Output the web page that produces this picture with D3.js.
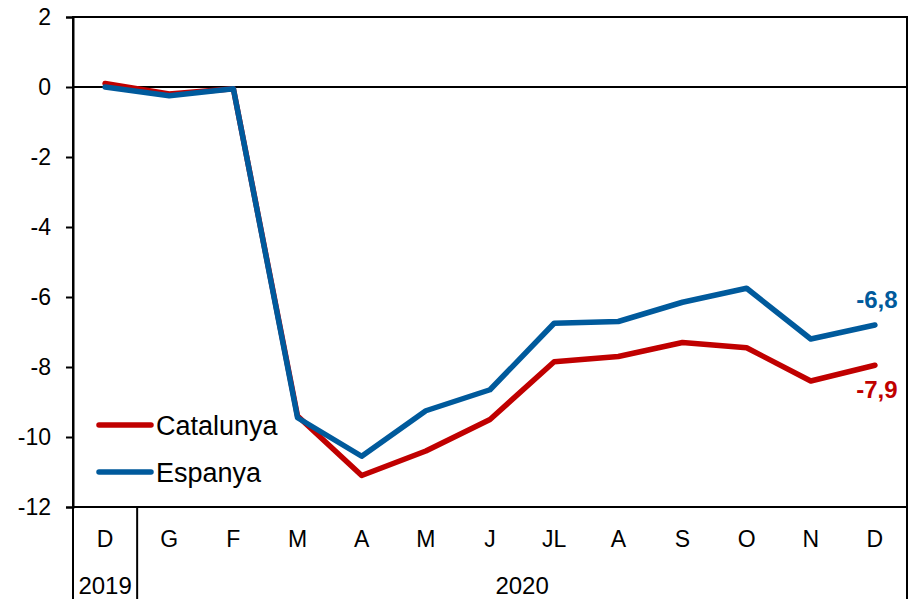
<!DOCTYPE html>
<html>
<head>
<meta charset="utf-8">
<script src="https://cdn.jsdelivr.net/npm/d3@7"></script>
<style>
  body { margin: 0; background: #fff; }
  text { font-family: "Liberation Sans", Arial, sans-serif; }
</style>
</head>
<body>
<script>
// data
const months = ["D", "G", "F", "M", "A", "M", "J", "JL", "A", "S", "O", "N", "D"];
const catalunya = [0.1, -0.2, -0.05, -9.4, -11.1, -10.4, -9.5, -7.85, -7.7, -7.3, -7.45, -8.4, -7.95];
const espanya = [0.0, -0.25, -0.05, -9.45, -10.55, -9.25, -8.65, -6.75, -6.7, -6.15, -5.75, -7.2, -6.8];
const yTicks = [2, 0, -2, -4, -6, -8, -10, -12];
const years = [{ label: "2019", from: 0, to: 0 }, { label: "2020", from: 1, to: 12 }];

const width = 911, height = 599;
const mLeft = 73, mRight = 907, mTop = 17, mBottom = 507;

const svg = d3.select("body").append("svg")
  .attr("width", width).attr("height", height);

const x = d3.scaleBand().domain(d3.range(months.length)).range([mLeft, mRight]);
const y = d3.scaleLinear().domain([-12, 2]).range([mBottom, mTop]);
const cx = i => x(i) + x.bandwidth() / 2;

// frame
svg.append("rect").attr("x", mLeft).attr("y", mTop)
  .attr("width", mRight - mLeft).attr("height", mBottom - mTop)
  .attr("fill", "none").attr("stroke", "#000").attr("stroke-width", 2);

// y axis
const yAxis = svg.append("g").attr("transform", "translate(" + mLeft + ",0)")
  .call(d3.axisLeft(y).tickValues(yTicks).tickSize(7).tickPadding(15)
    .tickFormat(d => String(d)));
yAxis.select(".domain").attr("stroke-width", 2);
yAxis.selectAll(".tick line").attr("stroke-width", 2);
yAxis.selectAll("text").attr("font-size", 23).attr("fill", "#000")
  .attr("font-family", "Liberation Sans, Arial, sans-serif");

// zero line
svg.append("line").attr("x1", mLeft).attr("x2", mRight)
  .attr("y1", y(0)).attr("y2", y(0))
  .attr("stroke", "#000").attr("stroke-width", 2);

// x labels
svg.append("g").selectAll("text").data(months).join("text")
  .attr("x", (d, i) => cx(i)).attr("y", 547)
  .attr("text-anchor", "middle").attr("font-size", 23)
  .text(d => d);

// year separators and labels
svg.append("g").selectAll("line").data([mLeft, x(1), mRight]).join("line")
  .attr("x1", d => d).attr("x2", d => d)
  .attr("y1", mBottom).attr("y2", height)
  .attr("stroke", "#000").attr("stroke-width", 2);
svg.append("g").selectAll("text").data(years).join("text")
  .attr("x", d => (x(d.from) + x(d.to) + x.bandwidth()) / 2).attr("y", 594)
  .attr("text-anchor", "middle").attr("font-size", 24)
  .text(d => d.label);

// lines
const line = d3.line().x((d, i) => cx(i)).y(d => y(d));
const series = [
  { name: "Catalunya", values: catalunya, color: "#C00000", label: "-7,9", dy: 33 },
  { name: "Espanya", values: espanya, color: "#005A9C", label: "-6,8", dy: -17 }
];
series.forEach(s => {
  svg.append("path").datum(s.values)
    .attr("d", line).attr("fill", "none")
    .attr("stroke", s.color).attr("stroke-width", 5.5)
    .attr("stroke-linejoin", "round").attr("stroke-linecap", "round");
  const last = s.values.length - 1;
  svg.append("text")
    .attr("x", cx(last) + 2).attr("y", y(s.values[last]) + s.dy)
    .attr("text-anchor", "middle").attr("font-size", 24).attr("font-weight", "bold")
    .attr("fill", s.color).text(s.label);
});

// legend
const legend = svg.append("g").selectAll("g").data(series).join("g")
  .attr("transform", (d, i) => "translate(99," + (425 + i * 47) + ")");
legend.append("line").attr("x1", 0).attr("x2", 52)
  .attr("stroke", d => d.color).attr("stroke-width", 5.5).attr("stroke-linecap", "round");
legend.append("text").attr("x", 57).attr("y", 10).attr("font-size", 27)
  .text(d => d.name);
</script>
</body>
</html>
